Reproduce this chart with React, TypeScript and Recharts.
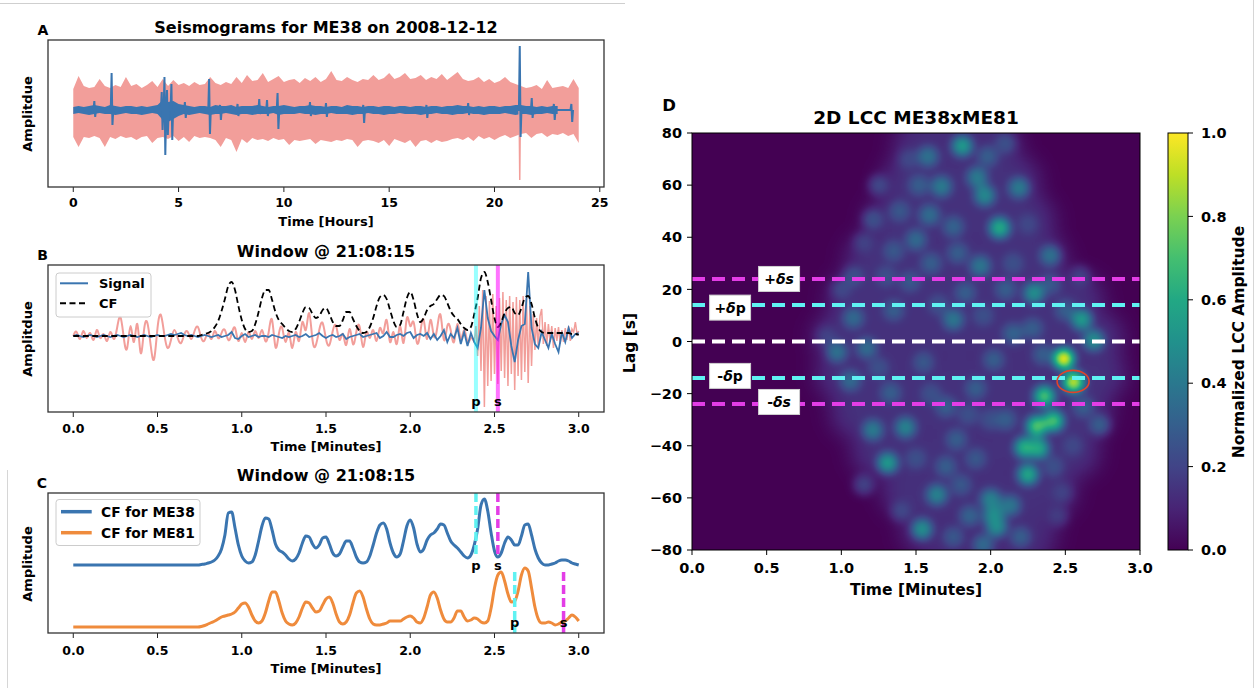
import React from 'react';
import {
  ComposedChart, ScatterChart, Area, Line, Scatter, XAxis, YAxis,
  ReferenceLine, ReferenceDot,
} from 'recharts';

const FONT = '"DejaVu Sans", "Liberation Sans", sans-serif';
const BLUE = '#3a75b0';
const PINK = '#f29e9a';
const ORANGE = '#ef8b3c';
const CYAN = '#5ff2f2';
const MAGENTA = '#e33de6';

/* ---------------- Panel A : 24 h seismogram ---------------- */
const aTicks = [0, 5, 10, 15, 20, 25];
// sampled every 0.25 h from 0 to 24 h
const aPinkHi = [21,34,24,22,23, 31,24,22,25, 23,33,24,26, 22,25,29,23, 31,24,30,25, 27,24,28,25, 26,33,27,25, 28,26,33,27, 35,29,30,37, 28,31,34,28, 30,31,27,32, 29,33,28,31, 39,30,29,33, 30,28,31,30, 35,30,32,37, 31,33,37,31, 32,35,30,33, 31,36,30,34, 38,31,29,30, 33,28,31,27, 29,33,28,26, 24,22,23,25, 21,30,22,23, 24,22,31,22];
const aPinkLo = [-27,-37,-27,-28,-26, -28,-37,-27,-29, -26,-28,-27,-30, -27,-26,-33,-28, -27,-29,-26,-31, -27,-32,-26,-28, -27,-28,-30,-37, -28,-30,-42,-29, -33,-28,-30,-29, -31,-28,-30,-29, -35,-30,-31,-30, -29,-34,-30,-31, -32,-30,-31,-29, -30,-37,-31,-30, -31,-33,-30,-36, -29,-31,-33,-30, -37,-31,-30,-33, -30,-32,-31,-29, -28,-30,-27,-31, -26,-29,-27,-30, -27,-25,-28,-26, -24,-23,-28,-24, -23,-27,-24,-25, -23,-26,-24,-33];
const aBlueHi = [3,4,3,4,5, 4,3,5,4, 3,4,4,3, 4,3,4,5, 10,8,9,6, 5,4,3,4, 4,3,5,4, 4,5,3,4, 4,4,5,4, 3,4,4,5, 4,3,4,4, 5,4,4,3, 4,4,3,5, 4,4,3,4, 4,3,4,4, 3,4,4,3, 4,4,3,4, 4,3,4,4, 5,4,4,3, 4,3,4,4, 3,4,4,5, 5,4,4,3, 4,3,4,4, 4,5,4,4];
const aBlueLo = [-4,-3,-4,-5,-4, -3,-4,-4,-5, -4,-3,-4,-4, -5,-4,-3,-4, -10,-12,-9,-6, -4,-5,-4,-3, -4,-5,-4,-4, -3,-4,-5,-4, -4,-5,-4,-4, -4,-3,-5,-4, -4,-4,-3,-4, -4,-5,-4,-4, -3,-4,-4,-4, -5,-4,-4,-3, -4,-4,-5,-4, -4,-3,-4,-4, -4,-5,-4,-4, -3,-4,-4,-5, -4,-4,-3,-4, -4,-5,-4,-4, -4,-3,-4,-5, -4,-4,-5,-4, -4,-3,-4,-4];
const aEventT = [1.0, 1.82, 4.2, 4.33, 4.45, 4.66, 5.3, 6.45, 6.97, 7.8, 8.83, 9.2, 9.7, 11.24, 12.0, 13.77, 16.77, 18.75, 21.2, 21.77, 22.82, 23.65];
const aEventHi = [9, 37, 18, 33, 20, 26, 8, 31, 5, 6, 11, 10, 17, 8, 7, 5, 5, 7, 64, 12, 6, 6];
const aEventLo = [-7, -15, -20, -45, -25, -30, -8, -24, -10, -6, -4, -6, -19, -6, -7, -13, -8, -5, -27, -8, -10, -12];
const aRedT = [21.17, 21.2, 21.23];
const aRedV = [0, -70, 0];

const aData = aPinkHi.map((hi, i) => ({ t: i * 0.25, pink: [aPinkLo[i], hi], blue: [aBlueLo[i], aBlueHi[i]] }));
const aSpikes = aEventT.flatMap((t, i) => [
  { t: t - 0.04, v: 0 }, { t, v: aEventHi[i] }, { t: t + 0.04, v: aEventLo[i] }, { t: t + 0.08, v: 0 },
]);
const aRed = aRedT.map((t, i) => ({ t, v: aRedV[i] }));

/* ---------------- Panel B : window, signal + CF ---------------- */
const minuteTicks = [0, 0.5, 1, 1.5, 2, 2.5, 3];
// every 0.02 min, 0..3
const bSignal = [0,1,0,-1,0, 1,0,-1,0,1, 0,-1,0,1,0, -1,0,1,0,-1, 0,1,0,-1,0, 1,0,0,1,2, 1,2,3,1,0, 1,0,-1,0,1, 0,-1,0,1,-1, 0,1,4,-2,-3, 0,2,-1,0,1, -1,0,0,-1,1, 0,-1,-2,0,-1, 0,1,-1,0,2, -1,0,1,3,0, -2,0,1,-1,0, 2,-3,-1,0,1, 2,-1,0,1,2, 3,-2,0,4,-1, -1,1,2,0,3, 4,-2,1,2,0, 3,-3,2,-4,0, 6,-6,2,-2,8, -8,4,-10,3,-6, -12,8,46,18,5, 0,-4,12,21,14, -10,-26,-4,10,12, 64,8,-8,-12,4, -4,-12,2,-8,-16, 4,-6,8,-2,2, 3];
const bCF = [0,0,0,0,0, 0,0,0,0,0, 0,0,0,0,0, 0,0,0,0,0, 0,0,0,0,0, 0,0,0,0,0, 0,0,0,0,0, 0,0,0,1,2, 3,5,9,15,25, 37,50,54,46,30, 16,7,4,5,12, 24,38,46,46,36, 24,16,12,8,5, 4,7,14,23,29, 28,22,18,20,26, 28,22,14,10,10, 16,24,24,17,10, 5,3,4,9,18, 30,39,41,37,26, 15,9,11,24,38, 44,36,22,14,18, 26,30,32,37,41, 40,33,25,20,17, 12,8,6,9,22, 38,58,64,54,36, 18,9,14,23,28, 29,23,21,28,38, 40,32,18,8,4, 3,3,3,3,3, 3,3,3,2,2, 1];
// every 0.02 min, 0..2.38
const bPinkEarly = [0,4,-3,5,-2, 3,-4,6,-2,2, -5,4,-3,8,19, -2,-12,10,-6,12, -17,6,13,-10,-23, 8,21,2,-12,-4, 6,-2,-7,2,4, -3,5,9,-2,-4, 3,-3,5,-2,3, 6,-4,2,8,-5, 3,-6,4,-3,5, -2,6,-5,4,16, -11,2,8,-6,3, -12,4,-5,14,6, 23,-4,-9,6,13, -3,-9,5,10,-4, 2,-9,7,-8,4, 9,-11,4,-2,6, -5,8,3,16,-6, 4,-8,10,-7,18, 10,14,-7,4,16, -3,16,0,8,21, -4,10,6,-6,12, -3,6,-6,-2,-6];
// every 0.01 min, 2.38..3.00
const bPinkLate = [-6,10,-20,30,-35,46,-71,40,-50,35,-45,42,-38,30,-48,38,-35,44,-42,36,-50,40,-38,34,-54,39,-40,36,-44,40,-36,38,-47,30,-30,22,-14,18,-12,20,27,-8,14,-10,12,-6,10,-12,8,-5,9,-8,6,-6,8,-4,10,-5,7,4,14,2,5];
const bPickT = [2.39, 2.52];
const bPickName = ['p', 's'];
const bPickLabelY = -70;

const bData = bSignal.map((v, i) => ({ t: i * 0.02, sig: v, cf: bCF[i] }));
const bPink1 = bPinkEarly.map((v, i) => ({ t: i * 0.02, v }));
const bPink2 = bPinkLate.map((v, i) => ({ t: 2.38 + i * 0.01, v }));

/* ---------------- Panel C : CFs of two stations ---------------- */
const cME38 = [68,68,68,68,68, 68,68,68,68,68, 68,68,68,68,68, 68,68,68,68,68, 68,68,68,68,68, 68,68,68,68,68, 68,68,68,68,68, 68,68,68,68.5,69, 70,71,73,77,84, 98,120,121,105,88, 77,72,70,71,78, 92,107,115,114,103, 89,83,81,78,74, 72,74,80,90,97, 96,89,85,88,95, 96,89,80,77,79, 86,92,92,85,76, 71,70,71,77,88, 100,108,110,104,90, 80,76,79,92,107, 113,105,89,81,84, 93,98,100,104,109, 108,100,92,88,85, 81,77,75,78,88, 104,128,134,122,100, 82,76,80,90,96, 93,88,88,97,108, 109,98,84,75,70, 68,68,69,70,72, 73,73,72,70,69, 68];
const cME81 = [6,6,6,6,6, 6,6,6,6,6, 6,6,6,6,6, 6,6,6,6,6, 6,6,6,6,6, 6,6,6,6,6, 6,6,6,6,6, 6,6,6,6.5,7.5, 9,10.5,12,14,16, 17,18,19,21,25, 29,30,26,18,12, 10,12,20,32,41, 41,32,20,12,9, 8,10,16,25,31, 30,25,21,22,28, 34,36,30,19,11, 9,11,18,30,40, 42,36,24,14,9, 8,8,9,10,12, 12,12,12,14,16, 17,15,11,10,15, 26,38,41,35,23, 14,11,11,15,22, 22,16,12,13,15, 14,11,10,12,25, 45,58,61,52,39, 31,32,42,58,65, 62,45,26,14,10, 10,11,10,8,9, 11,12,15,18,16, 12];
const cPickT = [2.39, 2.52, 2.62, 2.91];
const cPickName = ['p', 's', 'p', 's'];
const cPickTop = [140, 140, 61, 61];
const cPickBottom = [76, 76, 0, 0];
const cPickLabelY = [63, 63, 6, 6];
const cData = cME38.map((v, i) => ({ t: i * 0.02, me38: v, me81: cME81[i] }));

/* ---------------- Panel D : 2D LCC ---------------- */
const dTicksX = [0, 0.5, 1, 1.5, 2, 2.5, 3];
const dTicksY = [-80, -60, -40, -20, 0, 20, 40, 60, 80];
const spotT = [1.81,1.58,1.98,1.67,1.52,1.91,1.96,2.19,2.06,1.59,1.75,1.50,1.39,1.78,1.93,2.40,1.60,2.29,1.83,1.46,1.75,1.08,1.35,2.61,2.15,2.69,2.49,2.555,0.97,1.17,1.06,1.33,2.02,1.90,2.36,2.31,2.42,1.21,1.43,2.23,2.32,1.31,2.25,1.64,2.0,2.13,2.02,2.04,1.54,1.86,2.73,1.77,2.48,2.42,2.45,1.95,1.70,1.90,1.21,1.35,1.08,2.5,2.1,2.28,1.55,1.7,2.1,
  1.25,1.45,2.1,2.25,1.15,1.0,1.3,1.65,1.95,2.4,2.0,1.6,1.25,0.9,1.5,1.8,1.85,2.55,2.6,1.15,1.4,2.2,1.75,2.15,2.35,2.62];
const spotLag = [75,71,71,59.5,60,63,56,59,43.6,48.5,44,39,50,34,29,33,30,18.5,18.7,23,8.4,9,12,8.4,3,0.5,-6.6,-15.6,-4,-2.5,-15,-19.7,-7,-18,-21,-32.5,-30.5,-34,-33,-40.7,-41,-46.6,-51,-58.8,-60.6,-63,-67,-71,-72,-67,-32,-37.6,-58,-48,-67,-78,-48,-45,46.8,34.7,25,12,20,5,-8,-25,-30,
  60,70,76,45,38,20,25,14,10,22,-30,-20,-10,2,-45,-55,-28,-40,25,-55,-65,-75,-75,30,-5,-25];
const spotAmp = [0.55,0.38,0.3,0.42,0.3,0.42,0.48,0.42,0.62,0.36,0.32,0.35,0.28,0.3,0.4,0.38,0.3,0.5,0.3,0.28,0.4,0.35,0.3,0.55,0.32,0.5,1.0,0.93,0.38,0.36,0.35,0.3,0.3,0.3,0.72,0.75,0.72,0.42,0.45,0.65,0.62,0.55,0.6,0.45,0.45,0.4,0.5,0.5,0.5,0.32,0.3,0.3,0.2,0.25,0.18,0.35,0.3,0.28,0.25,0.28,0.25,0.3,0.3,0.3,0.28,0.3,0.3,
  0.22,0.22,0.25,0.22,0.2,0.22,0.25,0.25,0.25,0.28,0.25,0.25,0.25,0.2,0.25,0.28,0.25,0.22,0.2,0.2,0.22,0.3,0.28,0.25,0.3,0.3];
const envRowLag = [80, 76, 62, 47, 32, 17, 2, -13, -28, -43, -58, -73, -80];
const envRowT = [
  [1.6, 1.8, 2.0],
  [1.5, 1.7, 1.9, 2.05],
  [1.42, 1.6, 1.8, 2.0, 2.18],
  [1.32, 1.5, 1.7, 1.9, 2.1, 2.28],
  [1.18, 1.36, 1.56, 1.76, 1.96, 2.16, 2.36],
  [1.06, 1.26, 1.46, 1.66, 1.86, 2.06, 2.26, 2.46, 2.6],
  [0.96, 1.16, 1.36, 1.56, 1.76, 1.96, 2.16, 2.36, 2.56, 2.74],
  [0.98, 1.18, 1.38, 1.58, 1.78, 1.98, 2.18, 2.38, 2.58, 2.76],
  [1.08, 1.28, 1.48, 1.68, 1.88, 2.08, 2.28, 2.48, 2.66],
  [1.22, 1.42, 1.62, 1.82, 2.02, 2.22, 2.42, 2.58],
  [1.42, 1.62, 1.82, 2.02, 2.22, 2.42],
  [1.55, 1.75, 1.95, 2.15, 2.3],
  [1.7, 1.9, 2.1, 2.25],
];
const envRowAmp = [0.12, 0.13, 0.14, 0.14, 0.14, 0.14, 0.14, 0.14, 0.14, 0.14, 0.14, 0.13, 0.12];
const dLagLines = [24, 14, 0, -14, -24];
const dLabelText = ['+δs', '+δp', '-δp', '-δs'];
const dLabelT = [0.583, 0.255, 0.255, 0.583];
const dLabelLag = [24, 13, -13.2, -23.2];
const dPickT = 2.552;
const dPickLag = -15.3;
const cbTicks = [0, 0.2, 0.4, 0.6, 0.8, 1];

const spotData = spotT
  .map((t, i) => ({ t, lag: spotLag[i], v: spotAmp[i] }))
  .sort((a, b) => a.v - b.v);
const envData = envRowT.flatMap((row, r) => row.map((t) => ({ t, lag: envRowLag[r], v: envRowAmp[r] })));
const lagLineData = dLagLines.map((lag) => [{ t: 0, lag }, { t: 3, lag }]);
const cbData = [{ x: 0, top: 1 }, { x: 1, top: 1 }];

/* ---------------- styles ---------------- */
const VIRIDIS = ['#440154', '#482475', '#414487', '#355f8d', '#2a788e', '#21918c', '#22a884', '#44bf70', '#7ad151', '#bddf26', '#fde725'];
const VR = '0.267 0.282 0.255 0.208 0.165 0.129 0.133 0.267 0.478 0.741 0.992';
const VG = '0.004 0.141 0.267 0.373 0.471 0.569 0.659 0.749 0.820 0.875 0.906';
const VB = '0.329 0.459 0.529 0.553 0.557 0.549 0.518 0.439 0.318 0.149 0.145';
const dLineColors = [MAGENTA, CYAN, '#ffffff', CYAN, MAGENTA];

const tickABC = { fontSize: 12.5, fontWeight: 700, fill: '#000', fontFamily: FONT };
const tickD = { fontSize: 14.5, fontWeight: 700, fill: '#000', fontFamily: FONT };
const fmt1 = (v: number) => v.toFixed(1);
const fmtMinus = (v: number) => (v < 0 ? '\u2212' + Math.abs(v) : String(v));
const gray = (v: number) => {
  const g = Math.round(Math.max(0, Math.min(1, v)) * 255);
  return `rgb(${g},${g},${g})`;
};
const MABC = { top: 0, right: 24, bottom: 0, left: 0 };

const pickLabel = (name: string) => (p: any) => (
  <text x={p.cx} y={p.cy} textAnchor="middle" fontFamily={FONT} fontWeight={700} fontSize={13} fill="#000">{name}</text>
);
const lagLabel = (text: string) => (p: any) => (
  <g>
    <rect x={p.cx - 20.5} y={p.cy - 12.5} width={41} height={25} fill="#fff" stroke="#d0d0d0" strokeWidth={1} />
    <text x={p.cx} y={p.cy} textAnchor="middle" dominantBaseline="central" fontFamily={FONT} fontWeight={700} fontSize={14} fill="#000">
      {text.split('').map((ch, k) => (
        <tspan key={k} fontStyle={ch === 'δ' || ch === 's' ? 'italic' : 'normal'}>{ch}</tspan>
      ))}
    </text>
  </g>
);
const noShape = () => <g />;

const T = (props: any) => (
  <text fontFamily={FONT} fontWeight={700} fill="#000" textAnchor="middle" dominantBaseline="central" {...props} />
);

export default function App() {
  return (
    <div style={{ position: 'absolute', left: 0, top: 0, width: 1256, height: 688, background: '#fff', fontFamily: FONT, overflow: 'hidden' }}>
      <style>{`.heat-env{filter:url(#fEnvBlur);}`}</style>
      <svg width={0} height={0} style={{ position: 'absolute' }}>
        <defs>
          <linearGradient id="viridisGrad" x1="0" y1="1" x2="0" y2="0">
            {VIRIDIS.map((c, i) => <stop key={i} offset={i / 10} stopColor={c} />)}
          </linearGradient>
          <filter id="fEnvBlur" x="-40%" y="-40%" width="180%" height="180%" colorInterpolationFilters="sRGB">
            <feGaussianBlur stdDeviation={10} />
          </filter>
          <filter id="fHeat" x="0" y="0" width="1" height="1" colorInterpolationFilters="sRGB">
            <feGaussianBlur stdDeviation={4.6} />
            <feComponentTransfer>
              <feFuncR type="table" tableValues={VR} />
              <feFuncG type="table" tableValues={VG} />
              <feFuncB type="table" tableValues={VB} />
              <feFuncA type="linear" slope={0} intercept={1} />
            </feComponentTransfer>
          </filter>
        </defs>
      </svg>

      {/* page borders */}
      <div style={{ position: 'absolute', left: 0, top: 3, width: 625, height: 1, background: '#cfcfcf' }} />
      <div style={{ position: 'absolute', left: 7, top: 470, width: 1, height: 218, background: '#d6d6d6' }} />
      <div style={{ position: 'absolute', left: 1253, top: 0, width: 1, height: 688, background: '#d6d6d6' }} />

      {/* Panel A */}
      <div style={{ position: 'absolute', left: 48, top: 40 }}>
        <ComposedChart width={580} height={177} data={aData} margin={MABC}>
          <XAxis type="number" dataKey="t" domain={[-1.2, 25.2]} ticks={aTicks} interval={0} allowDataOverflow
            height={30} tickSize={5} tickMargin={6} axisLine={false} tickLine={{ stroke: '#222' }} tick={tickABC} />
          <YAxis type="number" hide domain={[-77, 70]} allowDataOverflow />
          <Area type="linear" dataKey="pink" stroke="none" fill={PINK} fillOpacity={1} isAnimationActive={false} />
          <Line data={aRed} dataKey="v" type="linear" stroke={PINK} strokeWidth={1.5} dot={false} isAnimationActive={false} />
          <Area type="linear" dataKey="blue" stroke="none" fill={BLUE} fillOpacity={1} isAnimationActive={false} />
          <Line data={aSpikes} dataKey="v" type="linear" stroke={BLUE} strokeWidth={2} dot={false} isAnimationActive={false} />
        </ComposedChart>
      </div>

      {/* Panel B */}
      <div style={{ position: 'absolute', left: 48, top: 265 }}>
        <ComposedChart width={580} height={177} data={bData} margin={MABC}>
          <XAxis type="number" dataKey="t" domain={[-0.15, 3.15]} ticks={minuteTicks} interval={0} allowDataOverflow tickFormatter={fmt1}
            height={30} tickSize={5} tickMargin={7} axisLine={false} tickLine={{ stroke: '#222' }} tick={tickABC} />
          <YAxis type="number" hide domain={[-76, 71]} allowDataOverflow />
          <Line data={bPink1} dataKey="v" type="natural" stroke={PINK} strokeWidth={2} dot={false} isAnimationActive={false} />
          <Line data={bPink2} dataKey="v" type="linear" stroke={PINK} strokeWidth={1.5} dot={false} isAnimationActive={false} />
          <Line dataKey="sig" type="linear" stroke={BLUE} strokeWidth={1.8} dot={false} isAnimationActive={false} />
          <Line dataKey="cf" type="monotone" stroke="#000" strokeWidth={1.8} strokeDasharray="6 3.5" dot={false} isAnimationActive={false} />
          <ReferenceLine x={bPickT[0]} stroke="#00ffff" strokeOpacity={0.4} strokeWidth={4} />
          <ReferenceLine x={bPickT[1]} stroke="#ff00ff" strokeOpacity={0.55} strokeWidth={4} />
          {bPickT.map((t, i) => (
            <ReferenceDot key={i} x={t} y={bPickLabelY} shape={pickLabel(bPickName[i])} />
          ))}
        </ComposedChart>
      </div>

      {/* Panel C */}
      <div style={{ position: 'absolute', left: 48, top: 493 }}>
        <ComposedChart width={580} height={170} data={cData} margin={MABC}>
          <XAxis type="number" dataKey="t" domain={[-0.15, 3.15]} ticks={minuteTicks} interval={0} allowDataOverflow tickFormatter={fmt1}
            height={30} tickSize={5} tickMargin={8} axisLine={false} tickLine={{ stroke: '#222' }} tick={tickABC} />
          <YAxis type="number" hide domain={[0, 140]} allowDataOverflow />
          <Line dataKey="me38" type="monotone" stroke={BLUE} strokeWidth={3} dot={false} isAnimationActive={false} />
          <Line dataKey="me81" type="monotone" stroke={ORANGE} strokeWidth={3} dot={false} isAnimationActive={false} />
          {cPickT.map((t, i) => (
            <ReferenceLine key={'l' + i} segment={[{ x: t, y: cPickTop[i] }, { x: t, y: cPickBottom[i] }]}
              stroke={cPickName[i] === 'p' ? CYAN : MAGENTA} strokeWidth={3.5} strokeDasharray="9 4" />
          ))}
          {cPickT.map((t, i) => (
            <ReferenceDot key={'d' + i} x={t} y={cPickLabelY[i]} shape={pickLabel(cPickName[i])} />
          ))}
        </ComposedChart>
      </div>

      {/* Panel D heat layer (grayscale blobs, blurred and colour-mapped with viridis) */}
      <div style={{ position: 'absolute', left: 692, top: 133, width: 448, height: 417, overflow: 'hidden', background: '#440154' }}>
        <div style={{ position: 'absolute', left: -24, top: -24, width: 496, height: 465, background: '#000', filter: 'url(#fHeat)' }}>
          <ScatterChart width={496} height={465} margin={{ top: 24, right: 24, bottom: 24, left: 24 }}>
            <XAxis type="number" dataKey="t" domain={[0, 3]} hide />
            <YAxis type="number" dataKey="lag" domain={[-80, 80]} hide />
            <Scatter data={envData} className="heat-env" isAnimationActive={false}
              shape={(p: any) => <circle cx={p.cx} cy={p.cy} r={22} fill={gray(p.payload.v)} />} />
            <Scatter data={spotData} isAnimationActive={false}
              shape={(p: any) => <circle cx={p.cx} cy={p.cy} r={10} fill={gray(p.payload.v)} />} />
          </ScatterChart>
        </div>
      </div>

      {/* Panel D axes + annotations */}
      <div style={{ position: 'absolute', left: 642, top: 121 }}>
        <ScatterChart width={522} height={459} margin={{ top: 12, right: 24, bottom: 0, left: 0 }}>
          <XAxis type="number" dataKey="t" domain={[0, 3]} ticks={dTicksX} interval={0} allowDataOverflow tickFormatter={fmt1}
            height={30} tickSize={5} tickMargin={8} axisLine={false} tickLine={{ stroke: '#000' }} tick={tickD} />
          <YAxis type="number" dataKey="lag" domain={[-80, 80]} ticks={dTicksY} interval={0} allowDataOverflow tickFormatter={fmtMinus}
            width={50} tickSize={5} tickMargin={5} axisLine={false} tickLine={{ stroke: '#000' }} tick={tickD} />
          {lagLineData.map((d, i) => (
            <Scatter key={'ll' + i} data={d} isAnimationActive={false} shape={noShape}
              line={{ stroke: dLineColors[i], strokeWidth: 4, strokeDasharray: '13 7' }} />
          ))}
          {dLabelText.map((txt, i) => (
            <ReferenceDot key={'lb' + i} x={dLabelT[i]} y={dLabelLag[i]} shape={lagLabel(txt)} />
          ))}
          <ReferenceDot x={dPickT} y={dPickLag}
            shape={(p: any) => <ellipse cx={p.cx} cy={p.cy} rx={16} ry={11} fill="none" stroke="#e0432b" strokeWidth={1.6} />} />
        </ScatterChart>
      </div>

      {/* Colorbar */}
      <div style={{ position: 'absolute', left: 1168, top: 121 }}>
        <ComposedChart width={80} height={441} data={cbData} margin={{ top: 12, right: 0, bottom: 12, left: 0 }}>
          <XAxis type="number" dataKey="x" domain={[0, 1]} hide height={0} />
          <YAxis orientation="right" type="number" domain={[0, 1]} ticks={cbTicks} interval={0} tickFormatter={fmt1}
            width={60} tickSize={5} tickMargin={8} axisLine={false} tickLine={{ stroke: '#000' }} tick={tickD} />
          <Area dataKey="top" type="linear" baseValue={0} stroke="none" fill="url(#viridisGrad)" fillOpacity={1} isAnimationActive={false} />
        </ComposedChart>
      </div>

      {/* Overlay: frames, titles, labels, legends */}
      <svg width={1256} height={688} style={{ position: 'absolute', left: 0, top: 0, pointerEvents: 'none' }}>
        <rect x={48} y={40} width={556} height={147} fill="none" stroke="#333" strokeWidth={1.3} />
        <rect x={48} y={265} width={556} height={147} fill="none" stroke="#333" strokeWidth={1.3} />
        <rect x={48} y={493} width={556} height={140} fill="none" stroke="#333" strokeWidth={1.3} />
        <rect x={692} y={133} width={448} height={417} fill="none" stroke="#000" strokeWidth={1} />
        <rect x={1168} y={133} width={20} height={417} fill="none" stroke="#000" strokeWidth={1} />

        <T x={326} y={27} fontSize={16}>Seismograms for ME38 on 2008-12-12</T>
        <T x={43} y={30} fontSize={14}>A</T>
        <T x={326} y={221} fontSize={13}>Time [Hours]</T>
        <T x={27} y={114} fontSize={13} transform="rotate(-90 27 114)">Amplitdue</T>

        <T x={326} y={251.5} fontSize={16}>Window @ 21:08:15</T>
        <T x={42.5} y={255} fontSize={14}>B</T>
        <T x={326} y={446.5} fontSize={13}>Time [Minutes]</T>
        <T x={27} y={339} fontSize={13} transform="rotate(-90 27 339)">Amplitdue</T>

        <T x={326} y={475} fontSize={16}>Window @ 21:08:15</T>
        <T x={42} y={483} fontSize={14}>C</T>
        <T x={326} y={668.5} fontSize={13}>Time [Minutes]</T>
        <T x={27} y={564} fontSize={13} transform="rotate(-90 27 564)">Amplitude</T>

        <T x={916} y={117.5} fontSize={18.5}>2D LCC ME38xME81</T>
        <T x={669} y={105} fontSize={16.5}>D</T>
        <T x={916} y={590} fontSize={15.5}>Time [Minutes]</T>
        <T x={630} y={343} fontSize={15.5} transform="rotate(-90 630 343)">Lag [s]</T>
        <T x={1239} y={342} fontSize={15.5} transform="rotate(-90 1239 342)">Normalized LCC Amplitude</T>

        {/* legend B */}
        <rect x={56} y={273} width={95} height={44} rx={3} fill="#fff" fillOpacity={0.85} stroke="#cccccc" />
        <line x1={60} x2={88} y1={283.3} y2={283.3} stroke={BLUE} strokeWidth={2} />
        <T x={99} y={283.3} fontSize={13} textAnchor="start">Signal</T>
        <line x1={60} x2={88} y1={303.3} y2={303.3} stroke="#000" strokeWidth={2} strokeDasharray="6 3.5" />
        <T x={99} y={303.3} fontSize={13} textAnchor="start">CF</T>

        {/* legend C */}
        <rect x={56} y={499.5} width={144} height={46} rx={3} fill="#fff" fillOpacity={0.85} stroke="#cccccc" />
        <line x1={61} x2={91.7} y1={511.7} y2={511.7} stroke={BLUE} strokeWidth={3.5} />
        <T x={101} y={511.7} fontSize={13.8} textAnchor="start">CF for ME38</T>
        <line x1={61} x2={91.7} y1={532.7} y2={532.7} stroke={ORANGE} strokeWidth={3.5} />
        <T x={101} y={532.7} fontSize={13.8} textAnchor="start">CF for ME81</T>
      </svg>
    </div>
  );
}
